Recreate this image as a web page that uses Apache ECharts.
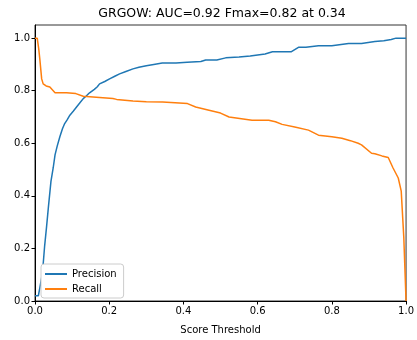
<!DOCTYPE html>
<html><head><meta charset="utf-8">
<script src="https://cdn.jsdelivr.net/npm/echarts@6/dist/echarts.min.js"></script>
<style>html,body{margin:0;padding:0;background:#fff}#c{width:417px;height:340px}</style>
</head><body><div id="c"></div>
<script>
var titleText = 'GRGOW: AUC=0.92 Fmax=0.82 at 0.34';
var xTicks = [0, 0.2, 0.4, 0.6, 0.8, 1.0];
var yTicks = [0, 0.2, 0.4, 0.6, 0.8, 1.0];
var precisionT = [0, 0.009, 0.013, 0.018, 0.022, 0.026, 0.031, 0.036, 0.043, 0.049, 0.054, 0.06, 0.067, 0.074, 0.08, 0.087, 0.094, 0.103, 0.112, 0.12, 0.13, 0.138, 0.147, 0.16, 0.168, 0.174, 0.188, 0.201, 0.215, 0.228, 0.245, 0.264, 0.28, 0.3, 0.32, 0.343, 0.38, 0.41, 0.447, 0.46, 0.49, 0.514, 0.55, 0.58, 0.62, 0.64, 0.657, 0.69, 0.71, 0.73, 0.764, 0.8, 0.845, 0.88, 0.916, 0.94, 0.96, 0.973, 1.0];
var precisionV = [0.02, 0.02, 0.05, 0.09, 0.14, 0.21, 0.28, 0.355, 0.455, 0.506, 0.556, 0.59, 0.625, 0.655, 0.675, 0.69, 0.707, 0.722, 0.738, 0.752, 0.77, 0.78, 0.792, 0.805, 0.815, 0.826, 0.835, 0.845, 0.855, 0.864, 0.873, 0.883, 0.889, 0.895, 0.9, 0.905, 0.905, 0.908, 0.911, 0.917, 0.917, 0.925, 0.928, 0.932, 0.94, 0.948, 0.948, 0.948, 0.965, 0.965, 0.971, 0.971, 0.98, 0.98, 0.987, 0.99, 0.995, 1.0, 1.0];
var recallT = [0, 0.006, 0.01, 0.013, 0.018, 0.022, 0.03, 0.04, 0.054, 0.085, 0.11, 0.13, 0.174, 0.21, 0.22, 0.264, 0.3, 0.344, 0.411, 0.433, 0.469, 0.5, 0.523, 0.585, 0.63, 0.648, 0.666, 0.7, 0.737, 0.764, 0.8, 0.827, 0.85, 0.871, 0.88, 0.907, 0.916, 0.935, 0.952, 0.965, 0.979, 0.987, 0.994, 1.0];
var recallV = [1.0, 1.0, 0.96, 0.92, 0.845, 0.826, 0.818, 0.814, 0.792, 0.792, 0.789, 0.779, 0.774, 0.77, 0.767, 0.761, 0.758, 0.757, 0.751, 0.738, 0.726, 0.715, 0.70, 0.688, 0.688, 0.682, 0.672, 0.662, 0.65, 0.631, 0.625, 0.619, 0.61, 0.60, 0.594, 0.562, 0.56, 0.552, 0.546, 0.506, 0.468, 0.418, 0.24, 0.0];

function zip(a, b) { return a.map(function (t, i) { return [t, b[i]]; }); }
var font = 'DejaVu Sans';
var chart = echarts.init(document.getElementById('c'), null, {renderer: 'canvas'});
chart.setOption({
  animation: false,
  backgroundColor: '#fff',
  graphic: [{type: 'text', x: 222, y: 14, style: {text: titleText, fontFamily: font, fontSize: 12.5, fill: '#000', textAlign: 'center', textVerticalAlign: 'middle'}}],
  grid: {left: 35, right: 9, top: 25, bottom: 36, show: true, borderColor: '#333', borderWidth: 1, containLabel: false},
  legend: {
    orient: 'vertical', left: 41, top: 264, padding: [5, 7, 4, 4], itemGap: 5,
    backgroundColor: '#fff', borderColor: '#ccc', borderWidth: 1, borderRadius: 3,
    itemWidth: 22, itemHeight: 10,
    textStyle: {fontFamily: font, fontSize: 10, color: '#000'},
    data: [{name: 'Precision', icon: 'path://M0,4 L22,4 L22,6 L0,6 Z'}, {name: 'Recall', icon: 'path://M0,4 L22,4 L22,6 L0,6 Z'}]
  },
  xAxis: {
    type: 'value', min: 0, max: 1,
    name: 'Score Threshold', nameLocation: 'middle', nameGap: 24,
    nameTextStyle: {fontFamily: font, fontSize: 10, color: '#000'},
    axisLine: {show: true, lineStyle: {color: '#000', width: 1}},
    axisTick: {show: true, length: 3.5, lineStyle: {color: '#000'}, customValues: xTicks},
    axisLabel: {fontFamily: font, fontSize: 10, color: '#000', margin: 5, customValues: xTicks, formatter: function (v) { return v.toFixed(1); }},
    splitLine: {show: false}
  },
  yAxis: {
    type: 'value', min: 0, max: 1.05,
    axisLine: {show: true, lineStyle: {color: '#000', width: 1}},
    axisTick: {show: true, length: 3.5, lineStyle: {color: '#000'}, customValues: yTicks},
    axisLabel: {fontFamily: font, fontSize: 10, color: '#000', margin: 5, customValues: yTicks, formatter: function (v) { return v.toFixed(1); }},
    splitLine: {show: false}
  },
  series: [
    {name: 'Precision', type: 'line', data: zip(precisionT, precisionV), showSymbol: false, symbol: 'none', color: '#1f77b4', lineStyle: {width: 1.5, color: '#1f77b4'}},
    {name: 'Recall', type: 'line', data: zip(recallT, recallV), showSymbol: false, symbol: 'none', color: '#ff7f0e', lineStyle: {width: 1.5, color: '#ff7f0e'}}
  ]
});
</script>
</body></html>
